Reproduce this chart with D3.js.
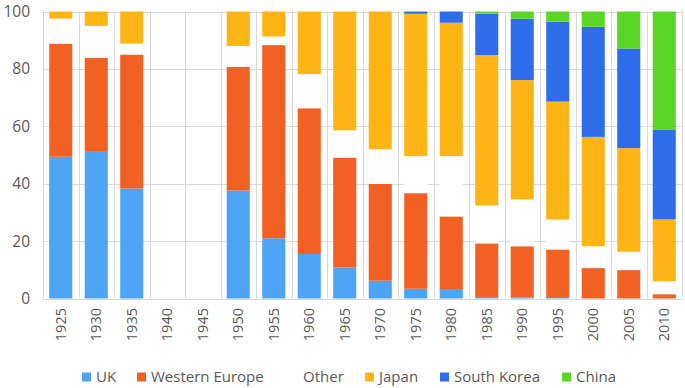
<!DOCTYPE html>
<html>
<head>
<meta charset="utf-8">
<script src="https://cdn.jsdelivr.net/npm/d3@7"></script>
<style>
  body { margin: 0; background: #fff; }
  svg { font-family: "Open Sans", sans-serif; }
</style>
</head>
<body>
<div id="chart"></div>
<script>
// years on the x axis
var years = ["1925", "1930", "1935", "1940", "1945", "1950", "1955", "1960", "1965",
    "1970", "1975", "1980", "1985", "1990", "1995", "2000", "2005", "2010"];
// share of each region (%)
var uk = [49.4, 51.1, 38.3, 0, 0, 37.6, 21.0, 15.5, 10.8, 6.2, 3.4, 3.3, 0.5, 0.3, 0.2, 0, 0, 0];
var westernEurope = [39.4, 32.8, 46.7, 0, 0, 43.1, 67.3, 50.8, 38.3, 33.7, 33.3, 25.3, 18.7, 17.9, 16.9, 10.6, 9.9, 1.5];
var other = [8.7, 11.1, 3.8, 0, 0, 7.3, 3.0, 11.9, 9.5, 12.1, 12.9, 21.0, 13.2, 16.3, 10.4, 7.6, 6.4, 4.5];
var japan = [2.5, 5.0, 11.2, 0, 0, 12.0, 8.7, 21.8, 41.4, 48.0, 49.6, 46.5, 52.4, 41.6, 41.1, 38.1, 36.1, 21.6];
var southKorea = [0, 0, 0, 0, 0, 0, 0, 0, 0, 0, 0.8, 3.9, 14.4, 21.4, 27.9, 38.4, 34.7, 31.3];
var china = [0, 0, 0, 0, 0, 0, 0, 0, 0, 0, 0, 0, 0.8, 2.5, 3.5, 5.3, 12.9, 41.1];
var yTicks = [0, 20, 40, 60, 80, 100];

var seriesNames = ["UK", "Western Europe", "Other", "Japan", "South Korea", "China"];
var seriesValues = [uk, westernEurope, other, japan, southKorea, china];
var colors = ["#4DA4F4", "#F26023", "#FFFFFF", "#FDB515", "#2F6EEA", "#5AD627"];

var width = 685, height = 388;
var margin = { top: 11.5, right: 3, bottom: 89, left: 43 };

var rows = years.map(function (yr, i) {
    var r = { year: yr };
    seriesNames.forEach(function (s, k) { r[s] = seriesValues[k][i]; });
    return r;
});

var svg = d3.select("#chart").append("svg")
    .attr("width", width)
    .attr("height", height);

var x = d3.scaleBand()
    .domain(years)
    .range([margin.left, 682])
    .paddingInner(0.35)
    .paddingOuter(0.175);

var y = d3.scaleLinear()
    .domain([0, 100])
    .range([height - margin.bottom - 0.5, margin.top]);

// horizontal grid
svg.append("g")
    .selectAll("line")
    .data(yTicks)
    .enter()
    .append("line")
    .attr("x1", margin.left)
    .attr("x2", 682)
    .attr("y1", function (d) { return Math.round(y(d)) + 0.5; })
    .attr("y2", function (d) { return Math.round(y(d)) + 0.5; })
    .attr("stroke", "#d9d9d9")
    .attr("stroke-width", 1);

// vertical grid at category edges
var step = x.step();
var edges = years.map(function (yr) { return x(yr) - x.paddingInner() * step / 2; });
edges.push(682);
svg.append("g")
    .selectAll("line")
    .data(edges)
    .enter()
    .append("line")
    .attr("x1", function (d) { return Math.round(d) + 0.5; })
    .attr("x2", function (d) { return Math.round(d) + 0.5; })
    .attr("y1", y(100))
    .attr("y2", y(0))
    .attr("stroke", "#d9d9d9")
    .attr("stroke-width", 1);

var stack = d3.stack().keys(seriesNames);
var stacked = stack(rows);

svg.append("g")
    .selectAll("g")
    .data(stacked)
    .enter()
    .append("g")
    .attr("fill", function (d, i) { return colors[i]; })
    .selectAll("rect")
    .data(function (d) { return d; })
    .enter()
    .append("rect")
    .attr("x", function (d) { return x(d.data.year); })
    .attr("width", x.bandwidth())
    .attr("y", function (d) { return y(d[1]); })
    .attr("height", function (d) { return Math.max(0, y(d[0]) - y(d[1])); });

// bottom axis line
svg.append("line")
    .attr("x1", margin.left)
    .attr("x2", 682)
    .attr("y1", Math.round(y(0)) + 0.5)
    .attr("y2", Math.round(y(0)) + 0.5)
    .attr("stroke", "#d9d9d9");

// y labels
svg.append("g")
    .selectAll("text")
    .data(yTicks)
    .enter()
    .append("text")
    .attr("x", 30)
    .attr("y", function (d) { return y(d); })
    .attr("dy", "0.35em")
    .attr("text-anchor", "end")
    .attr("font-size", "15.5px")
    .attr("fill", "#595959")
    .text(function (d) { return d; });

// x labels, rotated
svg.append("g")
    .selectAll("text")
    .data(years)
    .enter()
    .append("text")
    .attr("transform", function (d) {
        return "translate(" + (x(d) + x.bandwidth() / 2) + "," + 308 + ") rotate(-90)";
    })
    .attr("dy", "0.35em")
    .attr("text-anchor", "end")
    .attr("font-size", "14.5px")
    .attr("fill", "#595959")
    .text(function (d) { return d; });

// legend
var legendX = [82, 137, 289, 365, 440, 562];
var legend = svg.append("g")
    .selectAll("g")
    .data(seriesNames)
    .enter()
    .append("g")
    .attr("transform", function (d, i) { return "translate(" + legendX[i] + ",377)"; });
legend.append("rect")
    .attr("x", 0)
    .attr("y", -4.5)
    .attr("width", 9)
    .attr("height", 9)
    .attr("fill", function (d, i) { return colors[i]; });
legend.append("text")
    .attr("x", 14)
    .attr("dy", "0.35em")
    .attr("font-size", "15px")
    .attr("fill", "#595959")
    .text(function (d) { return d; });
</script>
</body>
</html>
